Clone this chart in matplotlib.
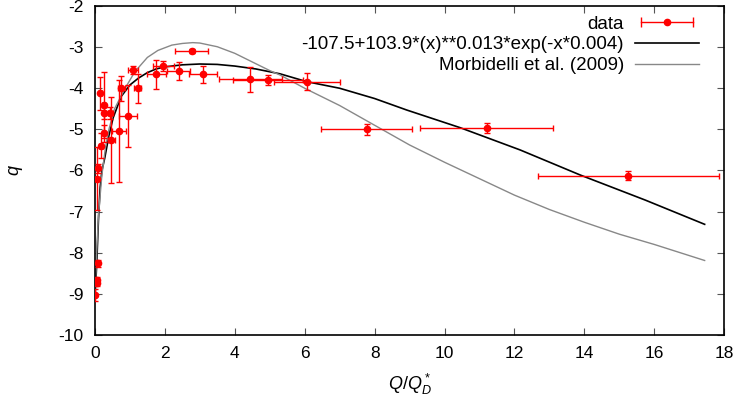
import numpy as np
import matplotlib
matplotlib.use("Agg")
from matplotlib import pyplot as plt
from matplotlib.lines import Line2D
from matplotlib.legend_handler import HandlerLine2D

plt.rcParams['font.family'] = ['Liberation Sans', 'DejaVu Sans']
plt.rcParams['font.size'] = 12
plt.rcParams['axes.unicode_minus'] = False
plt.rcParams['mathtext.fontset'] = 'custom'
plt.rcParams['mathtext.it'] = 'Liberation Sans:italic'
plt.rcParams['mathtext.rm'] = 'Liberation Sans'

# data points
data_x = [0.0, 0.05, 0.05, 0.1, 0.05, 0.1, 0.15, 0.18, 0.25, 0.25, 0.27, 0.44,
          0.47, 0.69, 0.75, 0.94, 1.09, 1.22, 1.76, 1.96, 2.4, 2.77, 3.08,
          4.44, 4.96, 6.06, 7.78, 11.21, 15.26]
data_y = [-9.03, -8.66, -8.74, -8.26, -6.2, -5.95, -4.12, -5.4, -5.1, -4.41, -4.6, -4.6,
          -5.26, -5.04, -4.0, -4.67, -3.56, -4.0, -3.66, -3.45, -3.58, -3.09, -3.66,
          -3.78, -3.8, -3.84, -5.0, -4.96, -6.13]
data_xerr = [0.02, 0.02, 0.02, 0.03, 0.03, 0.03, 0.04, 0.05, 0.05, 0.05, 0.05, 0.08,
             0.1, 0.2, 0.1, 0.25, 0.15, 0.1, 0.27, 0.3, 0.33, 0.47, 0.4,
             0.9, 1.0, 0.95, 1.3, 1.9, 2.6]
data_yerr = [0.15, 0.08, 0.08, 0.08, 0.77, 0.1, 0.4, 0.3, 0.2, 0.8, 0.15, 0.15,
             1.05, 1.25, 0.3, 0.75, 0.1, 0.35, 0.35, 0.12, 0.22, 0.05, 0.2,
             0.3, 0.12, 0.2, 0.13, 0.12, 0.11]

# fitted curve
fit_x = [0.0, 0.05, 0.1, 0.15, 0.2, 0.28, 0.4, 0.52, 0.75, 1.0, 1.25, 1.5, 1.75,
         2.0, 2.5, 3.0, 3.5, 4.0, 4.6, 5.3, 6.06, 7.0, 8.0, 8.92, 10.45, 12.16,
         13.88, 15.74, 17.44]
fit_y = [-9.1, -8.3, -7.2, -6.4, -6.0, -5.7, -5.15, -4.72, -4.2, -3.92, -3.75, -3.62, -3.53,
         -3.48, -3.43, -3.41, -3.42, -3.46, -3.53, -3.65, -3.84, -4.0, -4.25, -4.53, -4.96,
         -5.5, -6.11, -6.72, -7.31]

# Morbidelli et al. (2009)
morb_x = [0.0, 0.05, 0.1, 0.2, 0.3, 0.4, 0.56, 0.85, 1.14, 1.5, 1.8, 2.2, 2.5, 2.8,
          3.0, 3.5, 4.0, 4.5, 5.0, 5.3, 6.0, 7.0, 8.0, 9.0, 10.0, 11.0, 12.0,
          13.0, 14.0, 15.0, 16.0, 17.44]
morb_y = [-9.05, -8.0, -7.1, -6.1, -5.45, -5.0, -4.5, -4.02, -3.6, -3.25, -3.08, -2.95, -2.91,
          -2.89, -2.9, -2.99, -3.15, -3.36, -3.57, -3.68, -4.0, -4.42, -4.9, -5.38, -5.8, -6.2,
          -6.6, -6.95, -7.26, -7.55, -7.8, -8.19]

fig = plt.figure(figsize=(7.36, 4.03), dpi=100)
ax = fig.add_axes([0.129, 0.169, 0.855, 0.816])

ax.errorbar(data_x, data_y, xerr=data_xerr, yerr=data_yerr, fmt='o', color='red',
            ms=4.5, elinewidth=1.0, capsize=2.5, capthick=1.0, zorder=3)
ax.plot(fit_x, fit_y, color='black', lw=1.2)
ax.plot(morb_x, morb_y, color='#888888', lw=1.0)

ax.set_xlim(0, 18)
ax.set_ylim(-10, -2)
ax.set_xticks(np.arange(0, 19, 2))
ax.set_yticks(np.arange(-10, -1, 1))
ax.tick_params(direction='in', top=True, right=True, length=5, width=0.8, pad=8,
               color='#555555', labelsize=12.5)
for s in ax.spines.values():
    s.set_linewidth(1.2)

ax.set_xlabel(r'$Q/Q^*_D$', labelpad=8, fontsize=13)
ax.set_ylabel(r'$q$', labelpad=24, fontsize=13)

# gnuplot-like legend: text right aligned, sample on the right
bar = Line2D([], [], color='red', lw=1.0, marker='|', ms=7, mew=1.0)
dot = Line2D([], [], color='red', ls='none', marker='o', ms=4.5)
fit_h = Line2D([], [], color='black', lw=1.2)
morb_h = Line2D([], [], color='#888888', lw=1.0)
ax.legend([(bar, dot), fit_h, morb_h],
          ['data', '-107.5+103.9*(x)**0.013*exp(-x*0.004)', 'Morbidelli et al. (2009)'],
          handler_map={bar: HandlerLine2D(numpoints=2)},
          loc='upper right', frameon=False, markerfirst=False, handlelength=3.4,
          handletextpad=0.6, labelspacing=0.2, borderaxespad=0.1,
          bbox_to_anchor=(0.975, 1.0), fontsize=13.5)

fig.savefig("out.png", dpi=100)
